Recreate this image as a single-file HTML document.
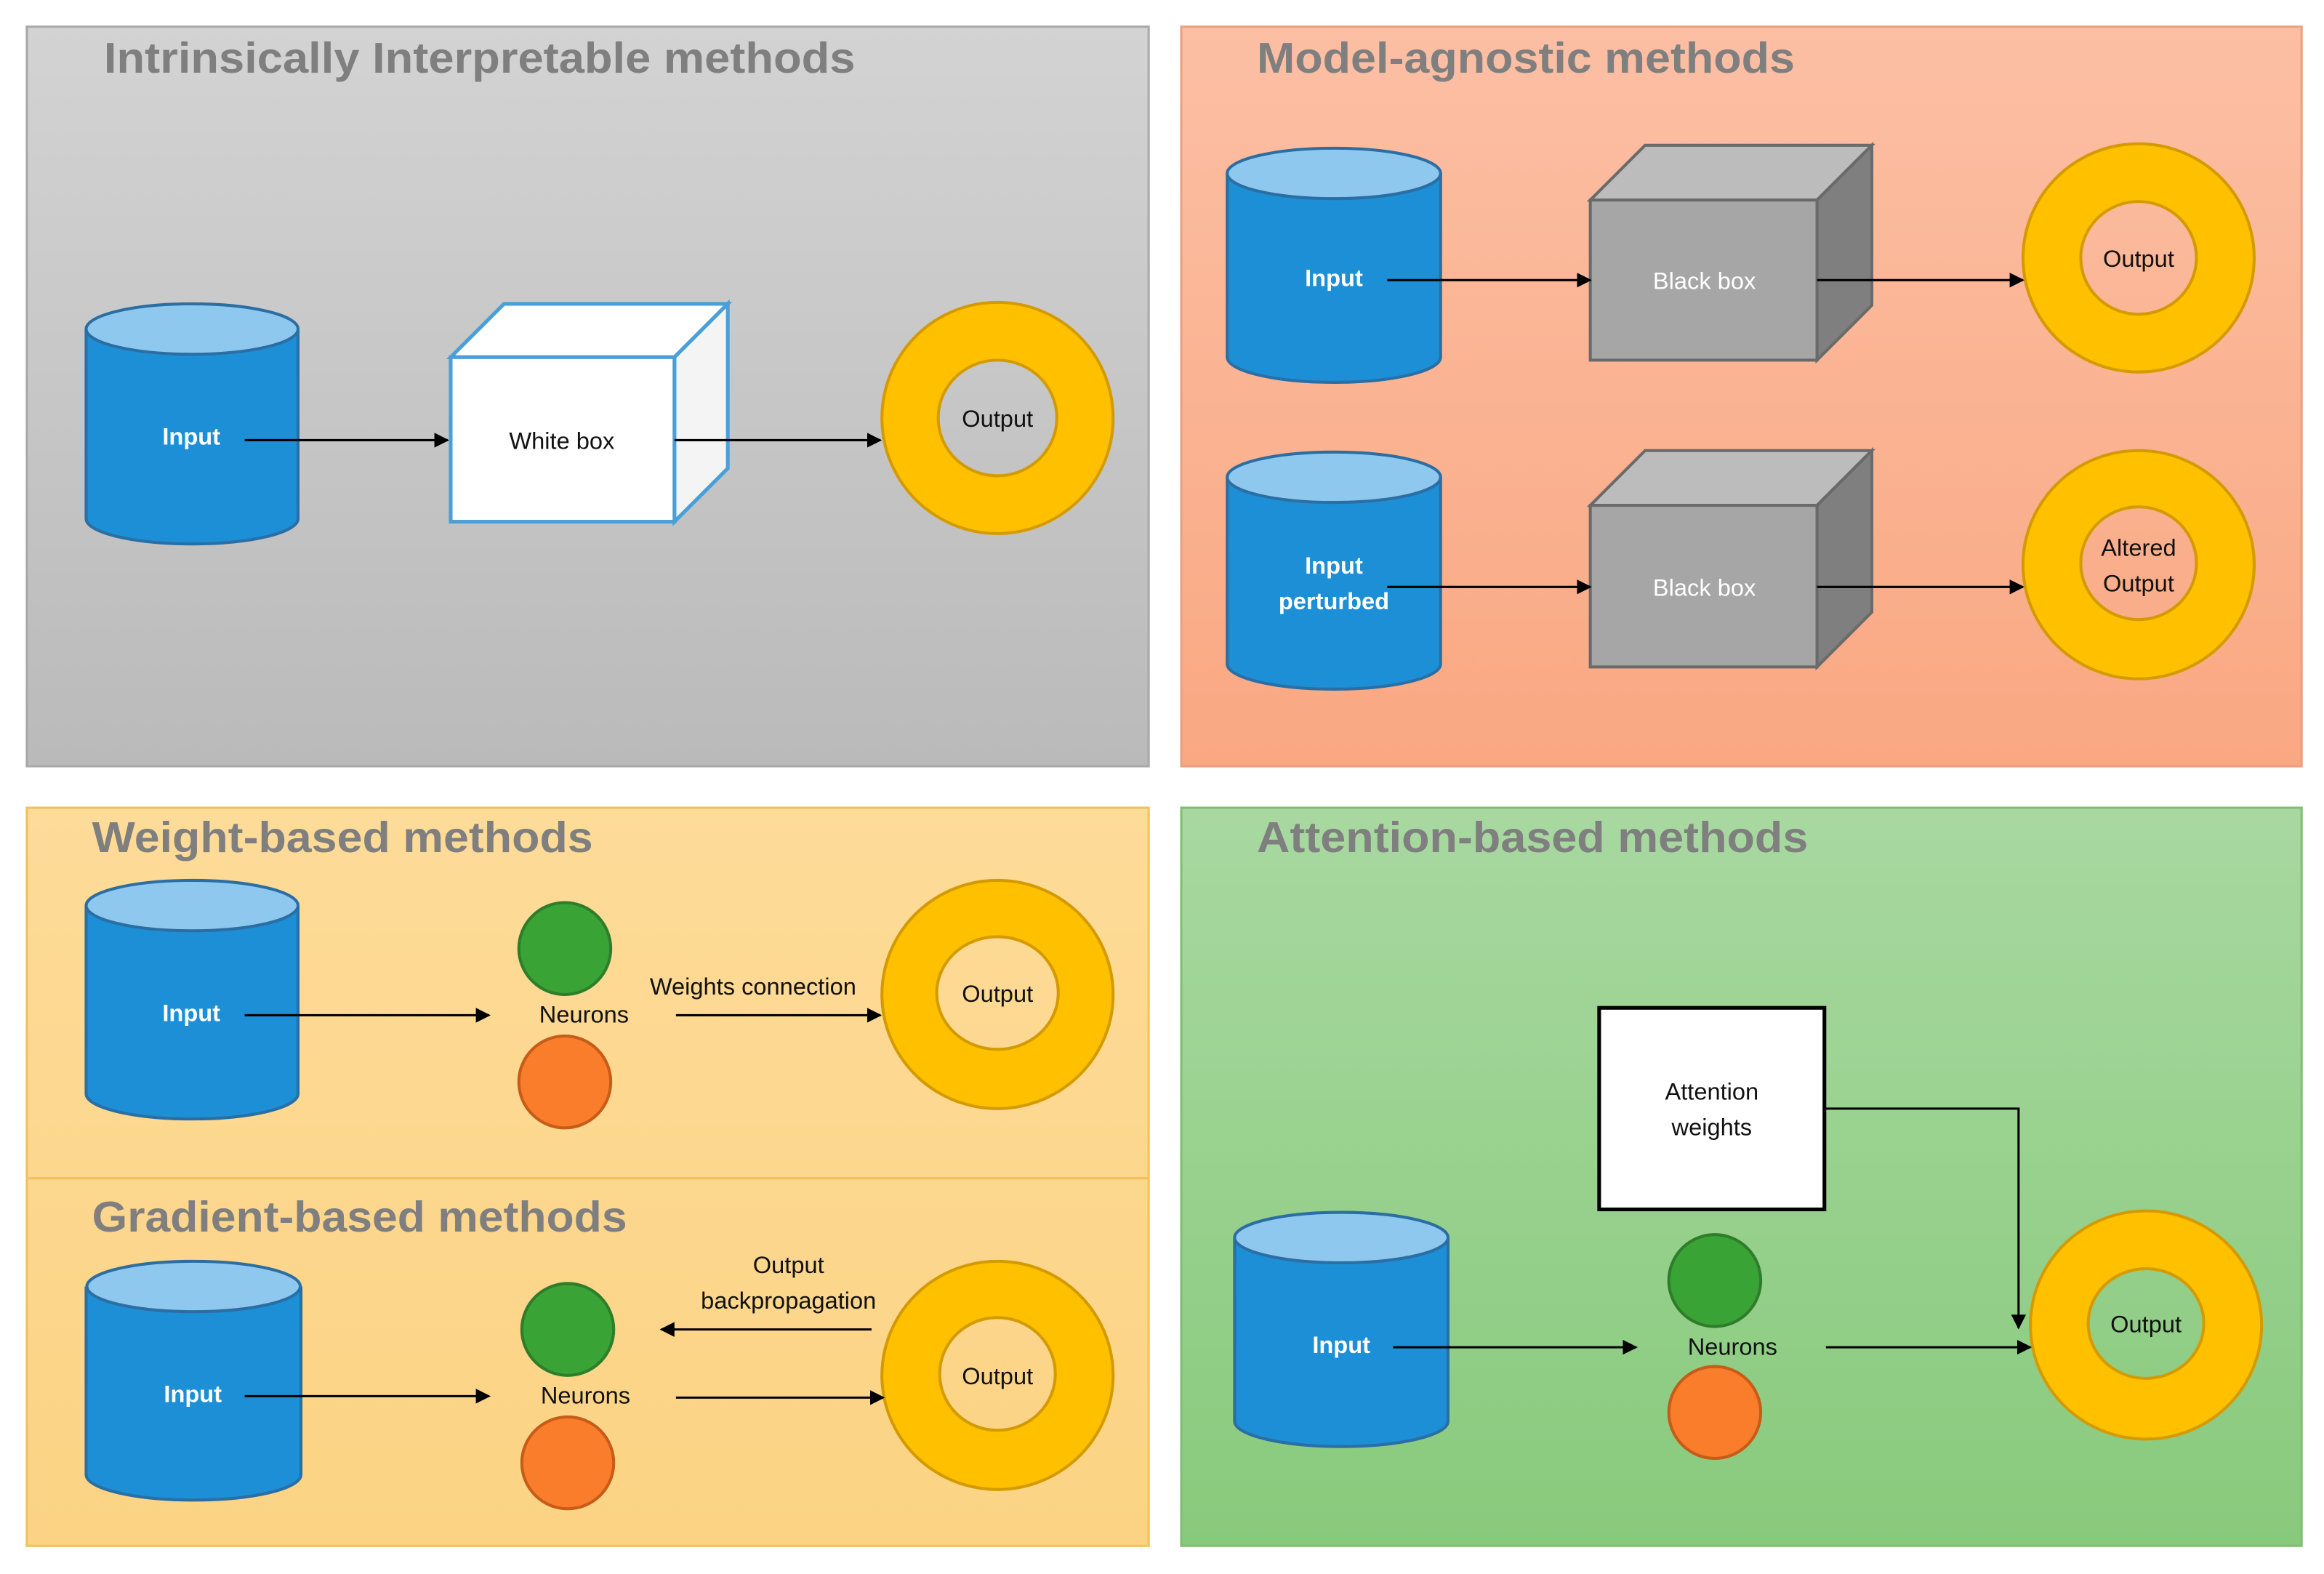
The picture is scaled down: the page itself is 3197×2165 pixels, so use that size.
<!DOCTYPE html>
<html><head><meta charset="utf-8"><style>html,body{margin:0;padding:0;background:#fff}svg{display:block}</style></head>
<body>
<svg width="3197" height="2165" viewBox="0 0 1568 1062" xmlns="http://www.w3.org/2000/svg" font-family="Liberation Sans, sans-serif">
<defs>
<linearGradient id="gGray" x1="0" y1="0" x2="0" y2="1"><stop offset="0" stop-color="#d3d3d3"/><stop offset="1" stop-color="#bababa"/></linearGradient>
<linearGradient id="gSal" x1="0" y1="0" x2="0" y2="1"><stop offset="0" stop-color="#fcbfa4"/><stop offset="1" stop-color="#f9a882"/></linearGradient>
<linearGradient id="gYel" x1="0" y1="0" x2="0" y2="1"><stop offset="0" stop-color="#fddb98"/><stop offset="1" stop-color="#fcd384"/></linearGradient>
<linearGradient id="gGrn" x1="0" y1="0" x2="0" y2="1"><stop offset="0" stop-color="#a8d8a0"/><stop offset="1" stop-color="#88ca7c"/></linearGradient>
<marker id="ah" markerWidth="10" markerHeight="10" refX="9" refY="5" orient="auto" markerUnits="userSpaceOnUse"><path d="M0,0 L10,5 L0,10 Z" fill="#000"/></marker>
</defs>
<!-- panels -->
<rect x="18" y="18" width="757" height="499" fill="url(#gGray)" stroke="#a8a8a8" stroke-width="1.5"/>
<rect x="797" y="18" width="756" height="499" fill="url(#gSal)" stroke="#eaa07e" stroke-width="1.5"/>
<rect x="18" y="545" width="757" height="498" fill="url(#gYel)" stroke="#f2c05c" stroke-width="1.5"/>
<line x1="18" y1="795" x2="775" y2="795" stroke="#f2c05c" stroke-width="1.5"/>
<rect x="797" y="545" width="756" height="498" fill="url(#gGrn)" stroke="#7fbf72" stroke-width="1.5"/>
<!-- titles -->
<g font-weight="bold" font-size="29" fill="#7f7f7f">
<text x="70" y="49" textLength="507" lengthAdjust="spacingAndGlyphs">Intrinsically Interpretable methods</text>
<text x="848" y="49" textLength="363" lengthAdjust="spacingAndGlyphs">Model-agnostic methods</text>
<text x="62" y="575" textLength="338" lengthAdjust="spacingAndGlyphs">Weight-based methods</text>
<text x="62" y="831" textLength="361" lengthAdjust="spacingAndGlyphs">Gradient-based methods</text>
<text x="848" y="575" textLength="372" lengthAdjust="spacingAndGlyphs">Attention-based methods</text>
</g>
<!-- cylinders -->
<g stroke="#2b6ea3" stroke-width="2">
<g id="c1"><path d="M58,222 L58,350 A71.5,17 0 0 0 201,350 L201,222" fill="#1c8fd6"/><ellipse cx="129.5" cy="222" rx="71.5" ry="17" fill="#8ec8ee"/></g>
<path d="M828,117 L828,241 A72,17 0 0 0 972,241 L972,117" fill="#1c8fd6"/><ellipse cx="900" cy="117" rx="72" ry="17" fill="#8ec8ee"/>
<path d="M828,322 L828,448 A72,17 0 0 0 972,448 L972,322" fill="#1c8fd6"/><ellipse cx="900" cy="322" rx="72" ry="17" fill="#8ec8ee"/>
<path d="M58,611 L58,738 A71.5,17 0 0 0 201,738 L201,611" fill="#1c8fd6"/><ellipse cx="129.5" cy="611" rx="71.5" ry="17" fill="#8ec8ee"/>
<path d="M58,868 L58,995 A72,17 0 0 0 203,995 L203,868" fill="#1c8fd6"/><ellipse cx="130.5" cy="868" rx="72" ry="17" fill="#8ec8ee"/>
<path d="M833,835 L833,959 A72,17 0 0 0 977,959 L977,835" fill="#1c8fd6"/><ellipse cx="905" cy="835" rx="72" ry="17" fill="#8ec8ee"/>
</g>
<!-- white box -->
<g stroke="#4b9fd8" stroke-width="2.5" fill="#fff">
<path d="M304,241 L340,205 L491,205 L455,241 Z"/>
<path d="M455,241 L491,205 L491,316 L455,352 Z" fill="#f4f4f4"/>
<rect x="304" y="241" width="151" height="111"/>
</g>
<!-- black boxes -->
<g stroke="#6a6a6a" stroke-width="2">
<path d="M1073,135 L1110,98 L1263,98 L1226,135 Z" fill="#bcbcbc"/>
<path d="M1226,135 L1263,98 L1263,206 L1226,243 Z" fill="#7f7f7f"/>
<rect x="1073" y="135" width="153" height="108" fill="#a6a6a6"/>
<path d="M1073,341 L1110,304 L1263,304 L1226,341 Z" fill="#bcbcbc"/>
<path d="M1226,341 L1263,304 L1263,413 L1226,450 Z" fill="#7f7f7f"/>
<rect x="1073" y="341" width="153" height="109" fill="#a6a6a6"/>
</g>
<!-- donuts -->
<g fill="#ffc000" stroke="#d49b00" stroke-width="2" fill-rule="evenodd">
<path d="M673,204 a78,78 0 1 0 0.01,0 Z M673,243 a40,39 0 1 1 -0.01,0 Z" />
<path d="M1443,97 a78,77 0 1 0 0.01,0 Z M1443,136 a39,38 0 1 1 -0.01,0 Z"/>
<path d="M1443,304 a78,77 0 1 0 0.01,0 Z M1443,342 a39,38 0 1 1 -0.01,0 Z"/>
<path d="M673,594 a78,77 0 1 0 0.01,0 Z M673,632 a41,38 0 1 1 -0.01,0 Z"/>
<path d="M673,851 a78,77 0 1 0 0.01,0 Z M673,889 a39,38 0 1 1 -0.01,0 Z"/>
<path d="M1448,817 a78,77 0 1 0 0.01,0 Z M1448,856 a39,37 0 1 1 -0.01,0 Z"/>
</g>
<!-- neurons -->
<g stroke-width="2">
<circle cx="381" cy="640" r="31" fill="#3aa335" stroke="#2e7d2a"/>
<circle cx="381" cy="730" r="31" fill="#f97d2a" stroke="#c65c18"/>
<circle cx="383" cy="897" r="31" fill="#3aa335" stroke="#2e7d2a"/>
<circle cx="383" cy="987" r="31" fill="#f97d2a" stroke="#c65c18"/>
<ellipse cx="1157" cy="864" rx="31" ry="31" fill="#3aa335" stroke="#2e7d2a"/>
<ellipse cx="1157" cy="953" rx="31" ry="31" fill="#f97d2a" stroke="#c65c18"/>
</g>
<!-- attention box -->
<rect x="1079" y="680" width="152" height="136" fill="#fff" stroke="#000" stroke-width="2.5"/>
<!-- arrows -->
<g stroke="#000" stroke-width="1.5" fill="none" marker-end="url(#ah)">
<line x1="165" y1="297" x2="302" y2="297"/>
<line x1="455" y1="297" x2="594" y2="297"/>
<line x1="936" y1="189" x2="1073" y2="189"/>
<line x1="1226" y1="189" x2="1365" y2="189"/>
<line x1="936" y1="396" x2="1073" y2="396"/>
<line x1="1226" y1="396" x2="1365" y2="396"/>
<line x1="165" y1="685" x2="330" y2="685"/>
<line x1="456" y1="685" x2="594" y2="685"/>
<line x1="165" y1="942" x2="330" y2="942"/>
<line x1="456" y1="943" x2="596" y2="943"/>
<line x1="588" y1="897" x2="446" y2="897"/>
<line x1="940" y1="909" x2="1104" y2="909"/>
<line x1="1232" y1="909" x2="1370" y2="909"/>
<polyline points="1231,748 1362,748 1362,896"/>
</g>
<!-- labels -->
<g font-size="16" text-anchor="middle">
<g fill="#fff" font-weight="bold">
<text x="129" y="300">Input</text>
<text x="900" y="193">Input</text>
<text x="900" y="387">Input</text>
<text x="900" y="411">perturbed</text>
<text x="129" y="689">Input</text>
<text x="130" y="946">Input</text>
<text x="905" y="913">Input</text>
</g>
<g fill="#fff">
<text x="1150" y="195">Black box</text>
<text x="1150" y="402">Black box</text>
</g>
<g fill="#111">
<text x="379" y="303">White box</text>
<text x="673" y="288">Output</text>
<text x="1443" y="180">Output</text>
<text x="1443" y="375">Altered</text>
<text x="1443" y="399">Output</text>
<text x="394" y="690">Neurons</text>
<text x="508" y="671">Weights connection</text>
<text x="673" y="676">Output</text>
<text x="395" y="947">Neurons</text>
<text x="532" y="859">Output</text>
<text x="532" y="883">backpropagation</text>
<text x="673" y="934">Output</text>
<text x="1155" y="742">Attention</text>
<text x="1155" y="766">weights</text>
<text x="1169" y="914">Neurons</text>
<text x="1448" y="899">Output</text>
</g>
</g>
</svg>
</body></html>
